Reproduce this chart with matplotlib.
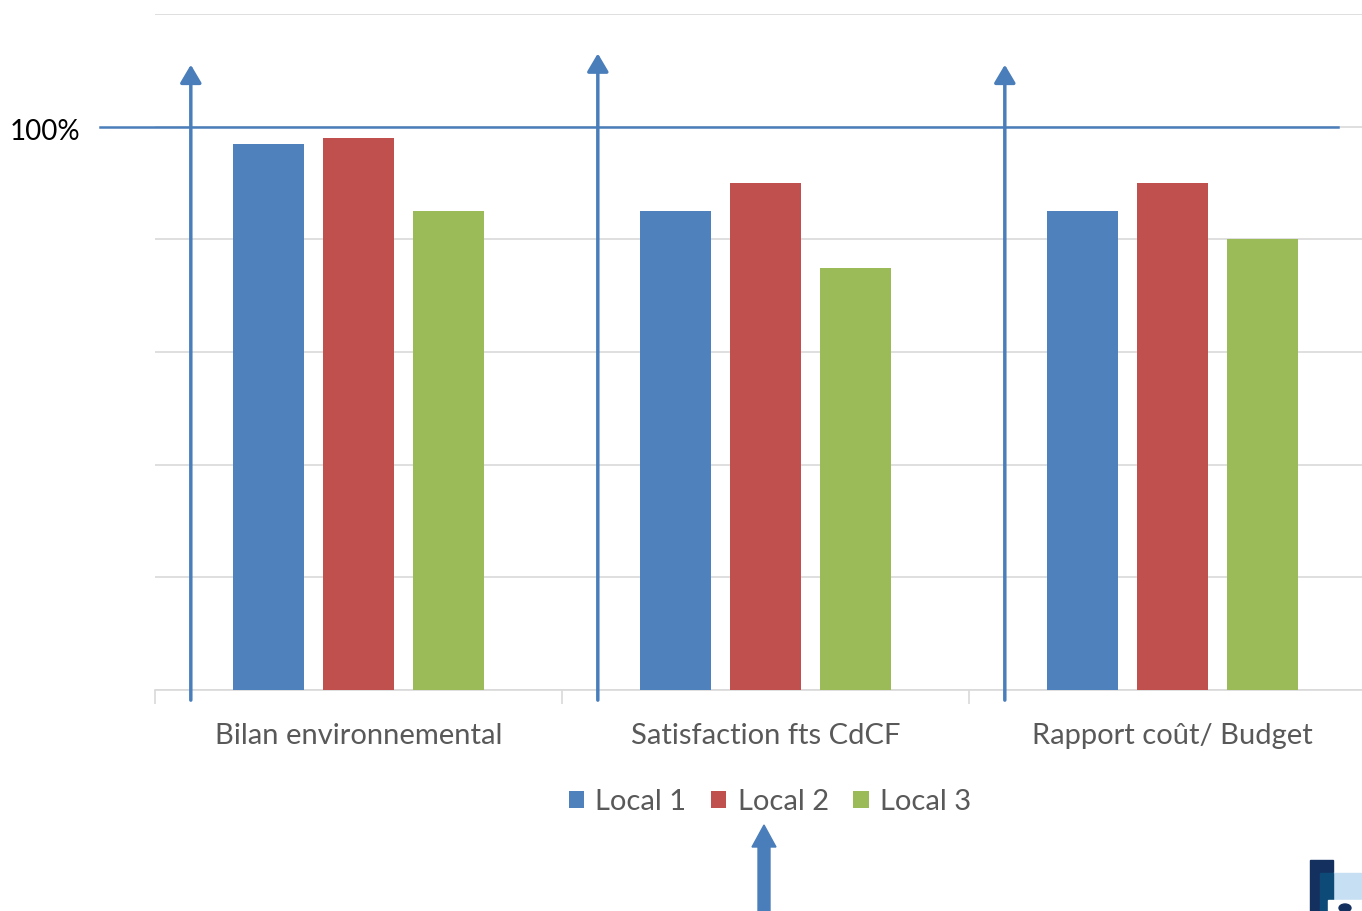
import numpy as np
import matplotlib
matplotlib.use("Agg")
import matplotlib.pyplot as plt
from matplotlib.patches import Rectangle, Circle
from matplotlib.lines import Line2D

plt.rcParams['font.family'] = ['Lato', 'DejaVu Sans']

categories = ['Bilan environnemental', 'Satisfaction fts CdCF', 'Rapport coût/ Budget']
series = ['Local 1', 'Local 2', 'Local 3']
local1 = [97, 85, 85]
local2 = [98, 90, 90]
local3 = [85, 75, 80]
colors = ['#4f81bd', '#c0504d', '#9bbb59']
arrow_blue = '#4a7ebb'

fig = plt.figure(figsize=(13.62, 9.11), dpi=100)
ax = fig.add_axes([155/1362, 221/911, 1221/1362, 676/911])

x = np.arange(len(categories))
width = 0.1745
step = 0.221
for i, (vals, c, name) in enumerate(zip([local1, local2, local3], colors, series)):
    ax.bar(x + (i - 1)*step, vals, width, color=c, label=name, zorder=3)

ax.set_xlim(-0.5, 2.5)
ax.set_ylim(0, 120)
ax.set_yticks(np.arange(0, 121, 20))
ax.yaxis.grid(True, color='#d9d9d9', linewidth=1.2, zorder=0)
ax.tick_params(axis='y', left=False, labelleft=False)
for s in ['top', 'right', 'left']:
    ax.spines[s].set_visible(False)
ax.spines['bottom'].set_color('#d9d9d9')
ax.spines['bottom'].set_linewidth(1.2)

# category ticks sit on the boundaries, labels in the middle
ax.set_xticks(np.arange(-0.5, 3.0, 1.0))
ax.set_xticklabels([])
ax.tick_params(axis='x', length=10, color='#d9d9d9', width=1.2)
ax.set_xticks(x, minor=True)
ax.set_xticklabels(categories, minor=True, fontsize=21, color='#595959')
ax.tick_params(axis='x', which='minor', length=0, pad=24)

# 100% reference line
ax.add_line(Line2D([-0.635, 2.407], [100, 100], color=arrow_blue,
                   linewidth=1.8, clip_on=False, zorder=4))
fig.text(10/1362, 1 - 132/911, '100%', fontsize=20, color='black', va='center')

# vertical arrows, one per criterion
arrow_tops = [111, 113, 111]
for k, top in enumerate(arrow_tops):
    xa = k - 0.5 + 0.088
    ax.annotate('', xy=(xa, top), xytext=(xa, -1.8),
                arrowprops=dict(arrowstyle='-|>,head_length=1.1,head_width=0.65',
                                color=arrow_blue, lw=2.5, shrinkA=0, shrinkB=0),
                annotation_clip=False, zorder=5)

ax.legend(loc='center', bbox_to_anchor=(770/1362, 1 - 802/911),
          bbox_transform=fig.transFigure, ncol=3, frameon=False,
          fontsize=21, handlelength=0.52, handleheight=0.52,
          handletextpad=0.38, columnspacing=0.85, labelcolor='#595959')

# arrow pointing up at the legend
fig.patches.append(matplotlib.patches.FancyArrow(
    764/1362, 0, 0, 86/911, width=8/911, head_width=24/1362, head_length=22/911,
    length_includes_head=True, color=arrow_blue, transform=fig.transFigure))

# logo corner
tf = fig.transFigure
fig.patches.append(Rectangle((1310/1362, 0), 23/1362, 51/911, color='#13305f', transform=tf))
fig.patches.append(Rectangle((1333/1362, 0), 29/1362, 38/911, color='#c6dff2', transform=tf))
fig.patches.append(Rectangle((1320/1362, 0), 13/1362, 38/911, color='#0e4a77', transform=tf))
fig.patches.append(Rectangle((1328/1362, 0), 34/1362, 11/911, color='white', transform=tf))
fig.patches.append(Circle((1345/1362, 3/911), 4/911, color='#13305f', transform=tf))

fig.savefig('out.png', dpi=100)
